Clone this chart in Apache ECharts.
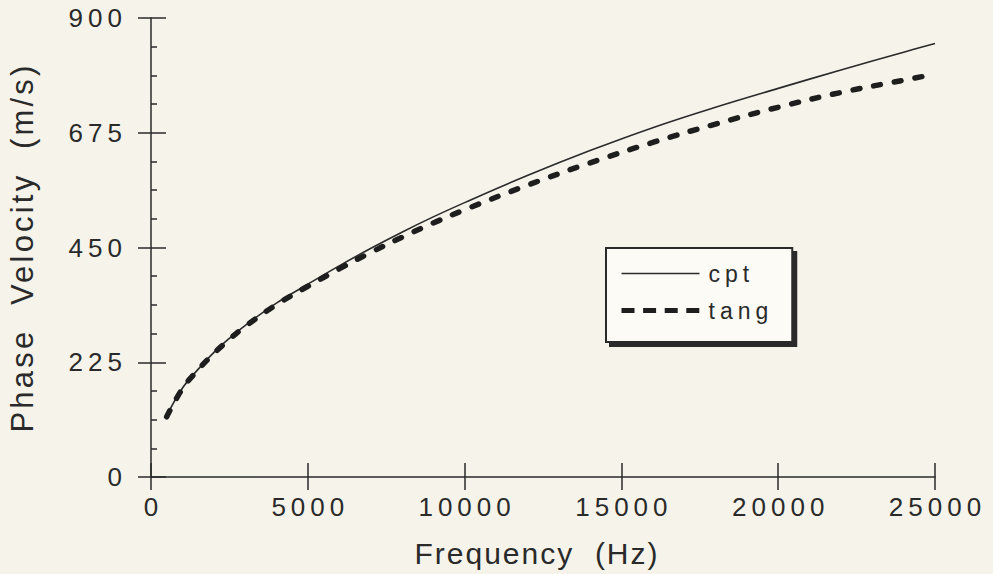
<!DOCTYPE html>
<html>
<head>
<meta charset="utf-8">
<title>Phase Velocity vs Frequency</title>
<script src="https://cdn.jsdelivr.net/npm/echarts@6.0.0/dist/echarts.min.js"></script>
<style>
  html, body { margin: 0; padding: 0; background: #f6f4ea; }
  #main { width: 993px; height: 574px; }
  /* the scanned plot has wide letter tracking, svg text lets css add it */
  #main text { letter-spacing: 5px; }
  #main text[style*="30px"] { letter-spacing: 2px; }
  #main text[style*="31px"] { letter-spacing: 3.2px; }
</style>
</head>
<body>
<div id="main"></div>
<script>
// frequency (Hz) and phase velocity (m/s)
const freq = [500, 1000, 1500, 2000, 2500, 3000, 4000, 5000, 6000, 7000, 8000, 9000,
  10000, 12000, 14000, 16000, 18000, 20000, 22000, 24000, 25000];
const cpt = [120, 174, 211, 244, 272, 297, 341, 378, 414, 448, 480, 510,
  538, 591, 640, 685, 725, 762, 798, 833, 850];
const tang = [118, 173, 210, 242, 270, 295, 338, 374, 408, 440, 470, 498,
  524, 572, 616, 656, 692, 725, 754, 778, 790];

const seriesNames = ['cpt', 'tang'];
const xName = 'Frequency  (Hz)';
const yName = 'Phase  Velocity  (m/s)';

const ink = '#2a2a2a';
const axisLine = { show: true, onZero: false, lineStyle: { color: ink, width: 1.5 } };
const tickLine = { color: ink, width: 1.5 };

let chart = echarts.init(document.getElementById('main'), null, { renderer: 'svg' });

chart.setOption({
  animation: false,
  backgroundColor: '#f6f4ea',
  color: [ink, '#1e1e1e'],
  textStyle: { fontFamily: 'Liberation Sans', color: ink },
  grid: { left: 151, top: 18, width: 784, height: 459, outerBoundsMode: 'none' },
  legend: {
    data: [
      { name: seriesNames[0], lineStyle: { width: 1.6 } },
      // the legend sample is drawn with longer, square dashes than the curve
      { name: seriesNames[1], lineStyle: { width: 5, type: [13, 8.6], cap: 'butt' } }
    ],
    orient: 'vertical',
    left: 606,
    top: 248,
    itemWidth: 78,
    itemHeight: 22,
    itemGap: 14,
    padding: [14, 39, 20, 13],
    backgroundColor: '#fcfbf6',
    borderColor: ink,
    borderWidth: 2,
    borderRadius: 0,
    shadowColor: ink,
    shadowBlur: 0,
    shadowOffsetX: 4,
    shadowOffsetY: 4,
    selectedMode: false,
    itemStyle: { opacity: 0 },
    textStyle: { fontSize: 23, color: ink, padding: [0, 0, 0, 4] }
  },
  xAxis: [{
    type: 'value', min: 0, max: 25000, interval: 5000, position: 'bottom',
    axisLine: axisLine,
    axisTick: { show: true, length: 13, lineStyle: tickLine },
    axisLabel: { margin: 17, fontSize: 26, color: ink, padding: [0, 0, 0, 5], formatter: v => String(v) },
    splitLine: { show: false },
    name: xName, nameLocation: 'middle', nameGap: 61,
    nameTextStyle: { fontSize: 30, color: ink, padding: [0, 12, 0, 0] }
  }, {
    // second copy only for the ticks that point into the plot
    type: 'value', min: 0, max: 25000, interval: 5000, position: 'bottom',
    axisLine: { show: false },
    axisTick: { show: true, inside: true, length: 14, lineStyle: tickLine },
    axisLabel: { show: false },
    splitLine: { show: false }
  }],
  yAxis: [{
    type: 'value', min: 0, max: 900, interval: 225, position: 'left',
    axisLine: axisLine,
    axisTick: { show: true, length: 13, lineStyle: tickLine },
    axisLabel: { margin: 24, fontSize: 26, color: ink, formatter: v => String(v) },
    splitLine: { show: false },
    name: yName, nameLocation: 'middle', nameGap: 113,
    nameTextStyle: { fontSize: 31, color: ink }
  }, {
    type: 'value', min: 0, max: 900, interval: 225, position: 'left',
    axisLine: { show: false },
    axisTick: { show: true, inside: true, length: 15, lineStyle: tickLine },
    minorTick: { show: true, splitNumber: 4, length: 6, lineStyle: tickLine },
    axisLabel: { show: false },
    splitLine: { show: false }
  }],
  series: [{
    name: 'cpt',
    type: 'line',
    symbol: 'none',
    smooth: 0.4,
    data: freq.map((f, i) => [f, cpt[i]]),
    lineStyle: { color: ink, width: 1.6 }
  }, {
    name: 'tang',
    type: 'line',
    symbol: 'none',
    smooth: 0.4,
    data: freq.map((f, i) => [f, tang[i]]),
    lineStyle: { color: '#1e1e1e', width: 5.5, type: [7, 14], cap: 'round' }
  }]
});
</script>
</body>
</html>
